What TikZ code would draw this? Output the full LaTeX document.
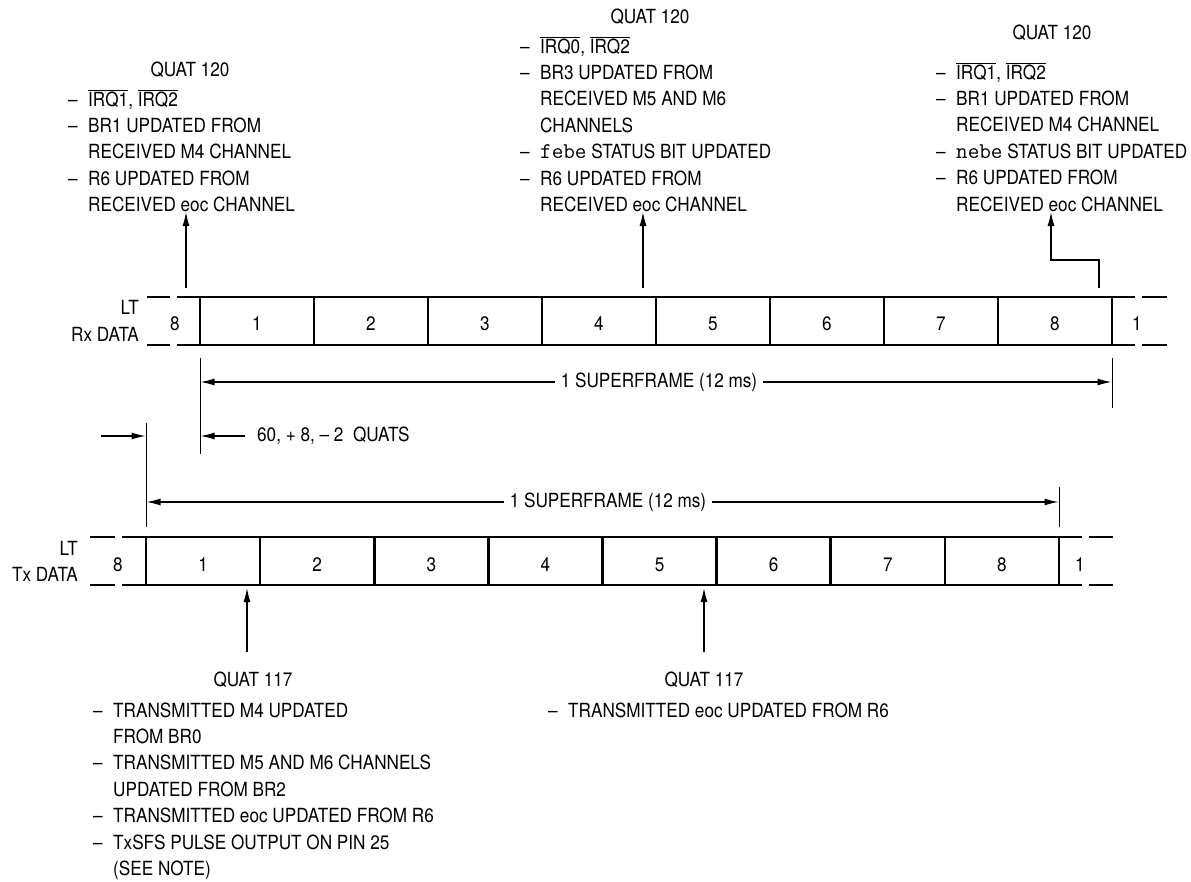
\documentclass[tikz,border=0pt]{standalone}
\usepackage{fontspec}
\setmainfont{TeX Gyre Heros}[FakeStretch=0.88]
\usetikzlibrary{arrows.meta}
\newcommand\ovl[1]{\ensuremath{\overline{\mbox{#1}}}}
\newcommand\li{\makebox[20pt][l]{–}}
\newcommand\ct{\hspace*{20pt}}
\newcommand\mono[1]{{\ttfamily\fontsize{22.5}{26.4}\selectfont #1}}
\begin{document}
\begin{tikzpicture}[x=1pt,y=-1pt,
  font=\fontsize{19.5}{26.4}\selectfont,
  frame/.style={line width=2.6pt},
  arr/.style={line width=1.2pt,-{Latex[length=14pt,width=7pt]}},
  ext/.style={line width=1pt},
  lbl/.style={inner sep=0pt,anchor=base},
  rlbl/.style={inner sep=0pt,anchor=base east},
  blk/.style={inner sep=0pt,anchor=base west}]
\useasboundingbox (0,0) rectangle (1191,881);

% ---------- Rx frame ----------
\foreach \yy in {297,345}
  \draw[frame] (147,\yy)--(170,\yy) (177,\yy)--(1135,\yy) (1142,\yy)--(1167,\yy);
\foreach \i in {0,...,8}
  \draw[frame] ({200+114*\i},297) -- ({200+114*\i},345);
\node[lbl] (rx0) at (175,330) {8};
\foreach \i in {1,...,8}
  \node[lbl] (rx\i) at ({200+114*(\i-0.5)},330) {\i};
\node[lbl] (rx9) at (1137,330) {1};
\node[rlbl] (rxlt) at (139,314) {LT};
\node[rlbl] (rxdata) at (139,341) {Rx DATA};

% ---------- Tx frame ----------
\foreach \yy in {537,585}
  \draw[frame] (90,\yy)--(115,\yy) (122,\yy)--(1082,\yy) (1089,\yy)--(1113,\yy);
\foreach \i in {0,...,8}
  \draw[frame] ({146+114.125*\i},537) -- ({146+114.125*\i},585);
\node[lbl] (tx0) at (118,571) {8};
\foreach \i in {1,...,8}
  \node[lbl] (tx\i) at ({146+114.125*(\i-0.5)},571) {\i};
\node[lbl] (tx9) at (1080,571) {1};
\node[rlbl] (txlt) at (78,555) {LT};
\node[rlbl] (txdata) at (78,581) {Tx DATA};

% ---------- top text blocks ----------
\node[lbl] (qa) at (190,76) {QUAT 120};
\node[blk] (ba) at (68,106) {\begin{tabular}[t]{@{}l@{}}
\li\ovl{IRQ1}, \ovl{IRQ2}\\
\li BR1 UPDATED FROM\\
\ct RECEIVED M4 CHANNEL\\
\li R6 UPDATED FROM\\
\ct RECEIVED eoc CHANNEL
\end{tabular}};

\node[lbl] (qb) at (650,23) {QUAT 120};
\node[blk] (bb) at (520,53) {\begin{tabular}[t]{@{}l@{}}
\li\ovl{IRQ0}, \ovl{IRQ2}\\
\li BR3 UPDATED FROM\\
\ct RECEIVED M5 AND M6\\
\ct CHANNELS\\
\li\mono{febe} STATUS BIT UPDATED\\
\li R6 UPDATED FROM\\
\ct RECEIVED eoc CHANNEL
\end{tabular}};

\node[lbl] (qc) at (1052,39) {QUAT 120};
\node[blk] (bc) at (936,79) {\begin{tabular}[t]{@{}l@{}}
\li\ovl{IRQ1}, \ovl{IRQ2}\\
\li BR1 UPDATED FROM\\
\ct RECEIVED M4 CHANNEL\\
\li\mono{nebe} STATUS BIT UPDATED\\
\li R6 UPDATED FROM\\
\ct RECEIVED eoc CHANNEL
\end{tabular}};

% ---------- bottom text blocks ----------
\node[lbl] (qd) at (253,686) {QUAT 117};
\node[blk] (bd) at (93,717) {\begin{tabular}[t]{@{}l@{}}
\li TRANSMITTED M4 UPDATED\\
\ct FROM BR0\\
\li TRANSMITTED M5 AND M6 CHANNELS\\
\ct UPDATED FROM BR2\\
\li TRANSMITTED eoc UPDATED FROM R6\\
\li TxSFS PULSE OUTPUT ON PIN 25\\
\ct (SEE NOTE)
\end{tabular}};

\node[lbl] (qe) at (704,686) {QUAT 117};
\node[blk] (be) at (548,717) {\li TRANSMITTED eoc UPDATED FROM R6};

% ---------- event arrows ----------
\coordinate (a1s) at (186,288); \coordinate (a1e) at (186,212);
\draw[arr] (a1s) -- (a1e);
\coordinate (a2s) at (643,288); \coordinate (a2e) at (643,212);
\draw[arr] (a2s) -- (a2e);
\coordinate (a3s) at (1099,288); \coordinate (a3e) at (1051,212);
\draw[arr] (a3s) -- (1099,260) -| (a3e);
\coordinate (a4s) at (247,652); \coordinate (a4e) at (247,588);
\draw[arr] (a4s) -- (a4e);
\coordinate (a5s) at (704,652); \coordinate (a5e) at (704,588);
\draw[arr] (a5s) -- (a5e);

% ---------- dimensions ----------
\draw[ext] (200,358) -- (200,454);
\draw[ext] (1112,358) -- (1112,408);
\draw[ext] (146,423) -- (146,527);
\draw[ext] (1059,487) -- (1059,527);

\node[inner xsep=6pt,inner ysep=0pt] (rxsf) at (659,382) {1 SUPERFRAME (12 ms)};
\coordinate (rxL) at (200.5,382); \coordinate (rxR) at (1111.5,382);
\draw[arr] (rxsf.west) -- (rxL);
\draw[arr] (rxsf.east) -- (rxR);

\node[inner xsep=6pt,inner ysep=0pt] (txsf) at (608,502) {1 SUPERFRAME (12 ms)};
\coordinate (txL) at (146.5,502); \coordinate (txR) at (1058.5,502);
\draw[arr] (txsf.west) -- (txL);
\draw[arr] (txsf.east) -- (txR);

\coordinate (qL0) at (101,436); \coordinate (qL1) at (145.5,436);
\draw[arr] (qL0) -- (qL1);
\coordinate (qR0) at (245,436); \coordinate (qR1) at (200.5,436);
\draw[arr] (qR0) -- (qR1);
\node[inner sep=0pt,anchor=base west] (quats) at (257,441) {60, + 8, – 2\ \ QUATS};
\end{tikzpicture}
\end{document}
